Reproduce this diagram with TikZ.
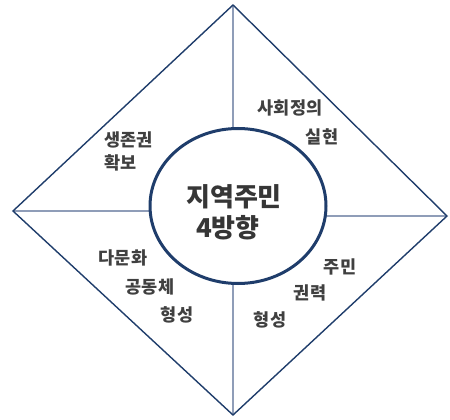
\documentclass[tikz,border=0pt]{standalone}
\usepackage{fontspec}
\setmainfont{Noto Sans CJK KR}
\usetikzlibrary{shapes.geometric}
\definecolor{navy}{HTML}{1F3D6B}
\definecolor{crossc}{HTML}{8F9DB8}
\definecolor{txt}{HTML}{404040}
\tikzset{
  frame/.style={draw=navy, line width=1.4pt},
  crossline/.style={draw=crossc, line width=1.8pt},
  hub/.style={ellipse, draw=navy, fill=white, line width=3pt, inner sep=0pt},
  lbl/.style={text=txt, font=\fontsize{17.5}{20}\selectfont\bfseries, inner sep=0pt},
  ctr/.style={text=txt!85!black, font=\fontsize{26}{30}\selectfont\bfseries, inner sep=0pt}
}
\begin{document}
\begin{tikzpicture}[x=1pt,y=-1pt]
\useasboundingbox (0,0) rectangle (450,420);
\coordinate (T) at (233,5);
\coordinate (R) at (447,216);
\coordinate (B) at (233,415);
\coordinate (L) at (13,211);
\coordinate (M) at (233,206);
\draw[crossline] (T) -- (B);
\draw[crossline] (L) -- (L -| M);
\draw[crossline] (R) -- (R -| M);
\draw[frame] (T) -- (R) -- (B) -- (L) -- cycle;
\node[hub, minimum width=176pt, minimum height=155pt] (C) at (238,206) {};
\node[ctr] (c1) at (234,197) {지역주민};
\node[ctr] (c2) at (228,228) {4방향};
\node[lbl, anchor=west] (a1) at (104,140) {생존권};
\node[lbl, anchor=west] (a2) at (104,163) {확보};
\node[lbl] (b1) at (290,108) {사회정의};
\node[lbl] (b2) at (322,137) {실현};
\node[lbl] (d1) at (123,258) {다문화};
\node[lbl] (d2) at (150,287) {공동체};
\node[lbl] (d3) at (177,315) {형성};
\node[lbl] (e1) at (340,267) {주민};
\node[lbl] (e2) at (310,293) {권력};
\node[lbl] (e3) at (270,320) {형성};
\end{tikzpicture}
\end{document}
